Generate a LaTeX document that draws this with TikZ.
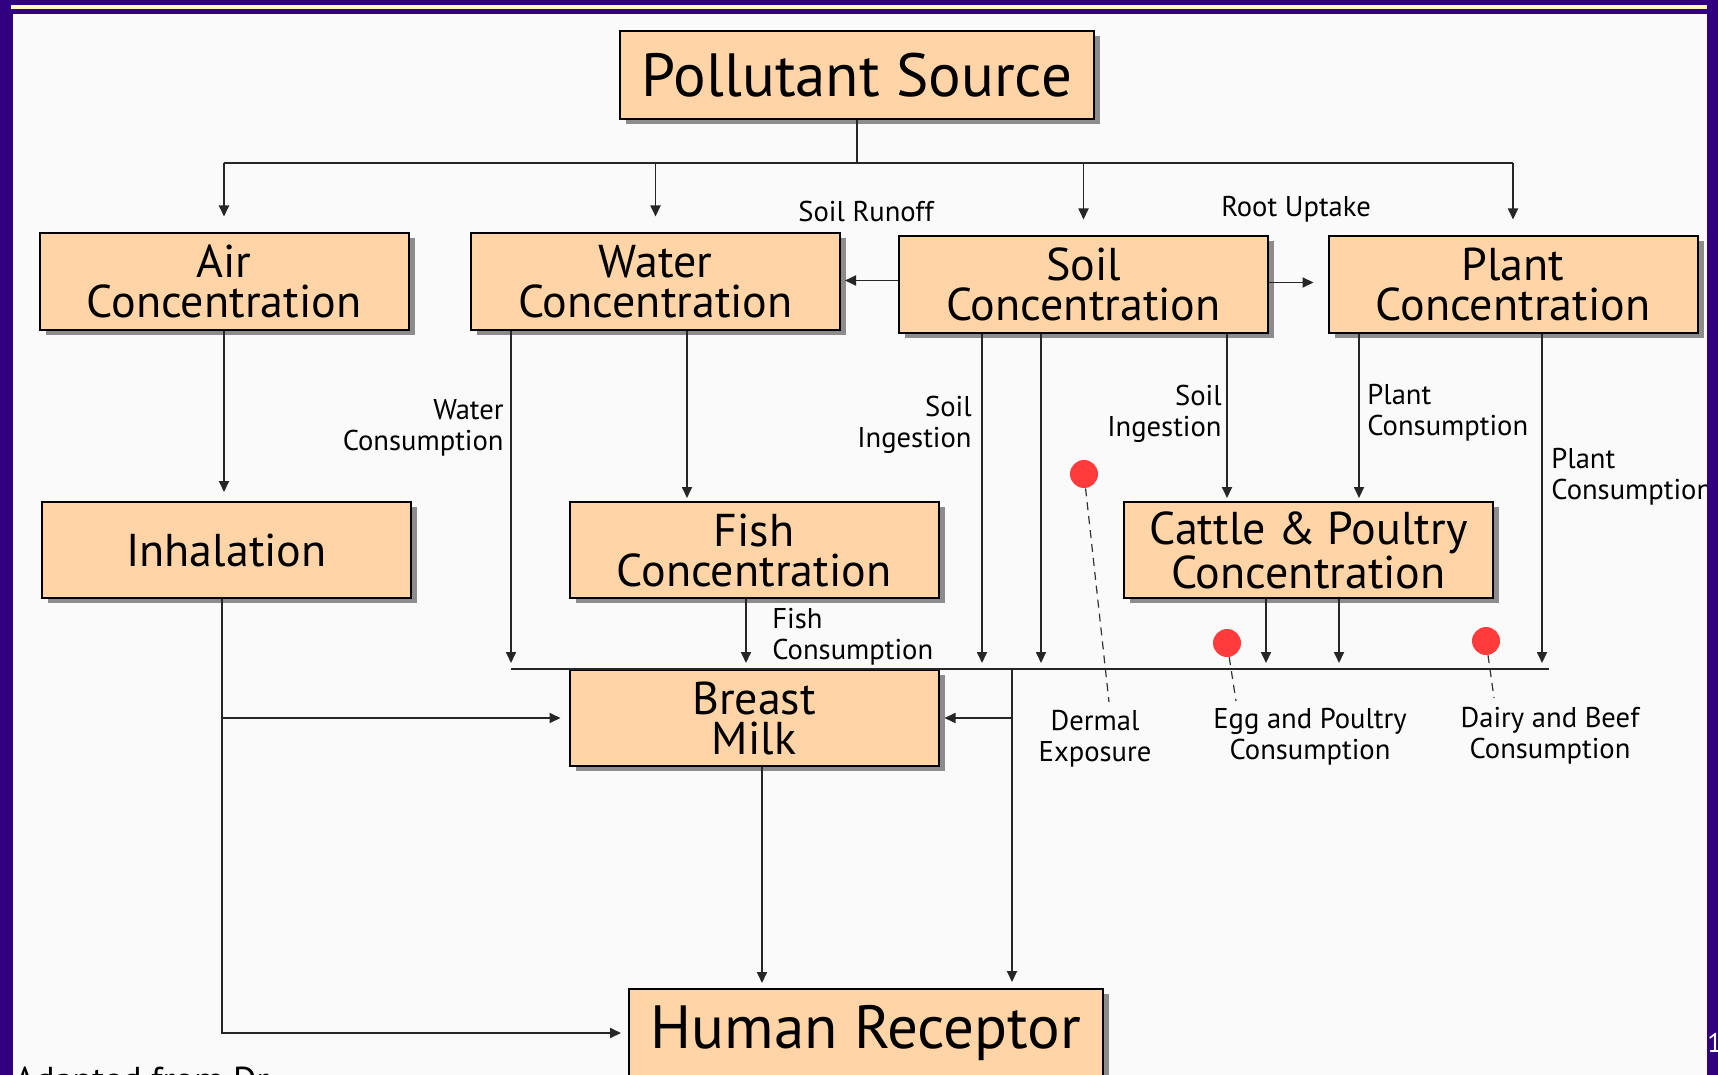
\documentclass[tikz,border=0pt]{standalone}
\usepackage{fontspec}
\setmainfont{PT Sans}
\usetikzlibrary{arrows.meta,shadows,positioning}
\definecolor{slidepurple}{RGB}{49,0,128}
\definecolor{slidecream}{RGB}{255,248,192}
\definecolor{slidebg}{RGB}{250,250,250}
\definecolor{boxpeach}{RGB}{255,213,168}
\definecolor{boxshadow}{RGB}{140,140,140}
\definecolor{dotred}{RGB}{255,59,59}

\begin{document}
\begin{tikzpicture}[x=0.5pt, y=-0.5pt]
    % Define styles
    \tikzset{
        box/.style={rectangle, draw=black, line width=1pt, fill=boxpeach, align=center, inner sep=2pt,
            drop shadow={shadow xshift=3pt, shadow yshift=-2.5pt, fill=boxshadow, opacity=1},
            font=\fontsize{23}{20}\selectfont, minimum width=184.5pt, minimum height=48pt},
        bigbox/.style={box, font=\fontsize{30.5}{32}\selectfont, minimum width=237pt, minimum height=44pt},
        lbl/.style={font=\fontsize{14.3}{15.5}\selectfont, inner sep=0pt},
        wire/.style={line width=0.9pt, black!85},
        arr/.style={wire, -{Triangle[length=5.5pt, width=5pt]}},
        reddot/.style={circle, fill=dotred, minimum size=14pt, inner sep=0pt},
        leader/.style={line width=0.6pt, black!80, dash pattern=on 4pt off 3pt}
    }
    \useasboundingbox (0,0) rectangle (1718,1075);

    % Slide frame
    \fill[slidepurple] (0,0) rectangle (1718,1075);
    \fill[slidecream] (11,5) rectangle (1707,9);
    \fill[slidebg] (13,14) rectangle (1707,1075);

    % Components
    \node[bigbox] (source) at (857,75) {Pollutant Source};
    \node[box] (air) at (224,281.5) {Air\\Concentration};
    \node[box] (water) at (655.5,281.5) {Water\\Concentration};
    \node[box] (soil) at (1083.5,284.5) {Soil\\Concentration};
    \node[box] (plant) at (1513,284.5) {Plant\\Concentration};
    \node[box] (inhal) at (226.5,550) {Inhalation};
    \node[box] (fish) at (754,550) {Fish\\Concentration};
    \node[box] (cattle) at (1308.5,550) {Cattle \& Poultry\\Concentration};
    \node[box] (milk) at (754,718) {Breast\\Milk};
    \node[bigbox] (human) at (866,1033) {Human Receptor};

    % Junction points
    \coordinate (bus) at (857,163);
    \coordinate (mixL) at (511,669);
    \coordinate (mixR) at (1549,669);
    \coordinate (mixFish) at (746,669);
    \coordinate (mixSoilA) at (982,669);
    \coordinate (mixSoilB) at (1041,669);
    \coordinate (mixCatA) at (1266,669);
    \coordinate (mixCatB) at (1339,669);
    \coordinate (mixPlant) at (1542,669);
    \coordinate (mixMilk) at (1012,669);
    \coordinate (fishIn) at (687,502);
    \coordinate (catSoil) at (1227,502);
    \coordinate (catPlant) at (1359,502);
    \coordinate (milkOut) at (762,989);
    \coordinate (bend) at (222,1033);

    % Arrows from the source
    \draw[wire] (source.south) -- (bus);
    \draw[wire] (air.north |- bus) -- (plant.north |- bus);
    \foreach \n in {air, water, soil, plant}
        \draw[arr, shorten >=8pt] (\n.north |- bus) -- (\n.north);

    % Transfers between media
    \draw[arr, shorten >=2pt] ([yshift=2pt]soil.west) -- ([yshift=2pt]soil.west -| water.east);
    \draw[arr, shorten >=7pt] ([yshift=1pt]soil.east) -- ([yshift=1pt]soil.east -| plant.west);
    \draw[arr, shorten >=4.5pt] (air.south) -- (air.south |- inhal.north);
    \draw[arr, shorten >=2pt] (fishIn |- water.south) -- (fishIn);
    \draw[arr, shorten >=2pt] (catSoil |- soil.south) -- (catSoil);
    \draw[arr, shorten >=2pt] (catPlant |- plant.south) -- (catPlant);

    % Intake line
    \draw[wire] (mixL) -- (mixR);
    \draw[arr, shorten >=3pt] (mixL |- water.south) -- (mixL);
    \draw[arr, shorten >=3pt] (mixFish |- fish.south) -- (mixFish);
    \draw[arr, shorten >=3pt] (mixSoilA |- soil.south) -- (mixSoilA);
    \draw[arr, shorten >=3pt] (mixSoilB |- soil.south) -- (mixSoilB);
    \draw[arr, shorten >=3pt] (mixCatA |- cattle.south) -- (mixCatA);
    \draw[arr, shorten >=3pt] (mixCatB |- cattle.south) -- (mixCatB);
    \draw[arr, shorten >=3pt] (mixPlant |- plant.south) -- (mixPlant);

    % To the receptor
    \draw[arr, shorten >=3pt] (mixMilk) -- (mixMilk |- human.north);
    \draw[arr, shorten >=2.5pt] (mixMilk |- milk.east) -- (milk.east);
    \draw[arr, shorten >=3pt] (milkOut |- milk.south) -- (milkOut);
    \draw[arr, shorten >=3.5pt] (bend |- inhal.south) -- (bend) -- (human.west);
    \draw[arr, shorten >=4pt] (bend |- milk.west) -- (milk.west);

    % Path labels
    \node[lbl] (runoff) at (866,211) {Soil Runoff};
    \node[lbl] (uptake) at (1296,209) {Root Uptake};
    \node[lbl, anchor=east, align=right] (waterUse) at (504,428) {Water\\Consumption};
    \node[lbl, anchor=west, align=left] (fishUse) at (772,637) {Fish\\Consumption};
    \node[lbl, anchor=east, align=right] (soilUseA) at (972,425) {Soil\\Ingestion};
    \node[lbl, anchor=east, align=right] (soilUseB) at (1222,414) {Soil\\Ingestion};
    \node[lbl, anchor=west, align=left] (plantUseA) at (1367,413) {Plant\\Consumption};
    \node[lbl, anchor=west, align=left] (plantUseB) at (1551,477) {Plant\\Consumption};

    % Exposure markers
    \node[reddot] (dotDermal) at (1084,474) {};
    \node[reddot] (dotEgg) at (1227,643) {};
    \node[reddot] (dotDairy) at (1486,641) {};
    \coordinate (tipDermal) at (1109,702);
    \coordinate (tipEgg) at (1236,701);
    \coordinate (tipDairy) at (1494,698);
    \draw[leader] (dotDermal) -- (tipDermal);
    \draw[leader] (dotEgg) -- (tipEgg);
    \draw[leader] (dotDairy) -- (tipDairy);
    \node[lbl, align=center] (dermal) at (1095,739) {Dermal\\Exposure};
    \node[lbl, align=center] (egg) at (1310,737) {Egg and Poultry\\Consumption};
    \node[lbl, align=center] (dairy) at (1550,736) {Dairy and Beef\\Consumption};

    % Credit line, cut by the page edge
    \node[anchor=base west, inner sep=0pt, font=\fontsize{18}{18}\selectfont] (credit) at (14,1092) {Adapted from Dr.};

    % Right frame edge and slide number
    \fill[slidepurple] (1707,14) rectangle (1718,1075);
    \node[white, font=\fontsize{13.5}{14}\selectfont, anchor=west, inner sep=0pt] (slideno) at (1707,1043) {1};
\end{tikzpicture}
\end{document}
